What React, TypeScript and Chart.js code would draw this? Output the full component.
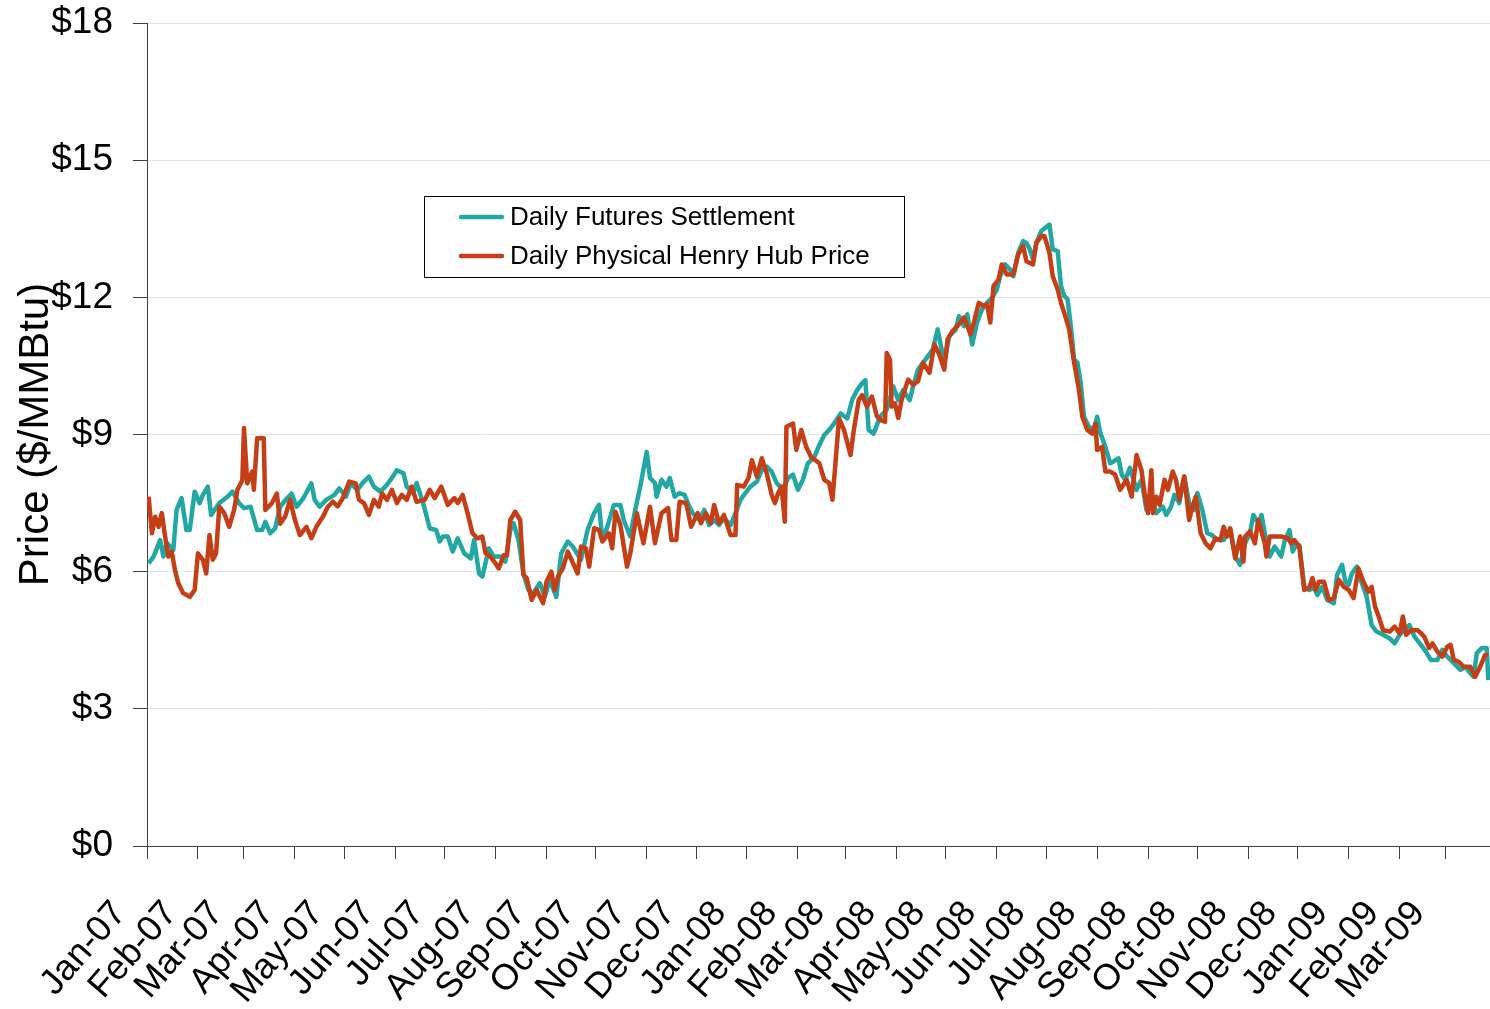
import React, { useEffect, useRef } from "react";
import { Chart, registerables } from "chart.js";

Chart.register(...registerables);

// Day offsets (days since 1 Jan 2007) of the first day of each labelled month
const monthStartDays = [0, 31, 59, 90, 120, 151, 181, 212, 243, 273, 304, 334, 365, 396, 425, 456, 486, 517, 547, 578, 609, 639, 670, 700, 731, 762, 790];
const monthLabels = ["Jan-07", "Feb-07", "Mar-07", "Apr-07", "May-07", "Jun-07", "Jul-07", "Aug-07", "Sep-07", "Oct-07", "Nov-07", "Dec-07", "Jan-08", "Feb-08", "Mar-08", "Apr-08", "May-08", "Jun-08", "Jul-08", "Aug-08", "Sep-08", "Oct-08", "Nov-08", "Dec-08", "Jan-09", "Feb-09", "Mar-09"];
const lastDay = 817;

const seriesNames = ["Daily Futures Settlement", "Daily Physical Henry Hub Price"];

// Daily Futures Settlement (day offset, $/MMBtu)
const futuresDays = [1, 4, 8, 10, 12, 16, 18, 21, 24, 26, 29, 32, 34, 37, 39, 44, 49, 52, 56, 59, 63, 67, 70, 72, 75, 78, 81, 85, 88, 91, 95, 100, 102, 105, 109, 114, 117, 121, 124, 128, 131, 135, 138, 142, 146, 149, 152, 156, 158, 162, 164, 168, 172, 176, 178, 180, 183, 186, 189, 193, 197, 199, 202, 204, 208, 211, 215, 218, 221, 223, 226, 229, 232, 235, 239, 242, 245, 249, 252, 256, 259, 264, 268, 272, 275, 277, 280, 284, 288, 290, 294, 297, 300, 304, 306, 309, 310, 313, 316, 318, 321, 324, 327, 330, 332, 336, 339, 342, 345, 348, 351, 355, 358, 361, 364, 367, 371, 374, 377, 380, 383, 387, 390, 393, 396, 399, 402, 406, 409, 412, 415, 418, 422, 426, 429, 432, 435, 437, 439, 442, 446, 450, 454, 457, 460, 464, 466, 469, 475, 478, 481, 483, 485, 488, 492, 494, 497, 499, 502, 505, 508, 512, 514, 517, 519, 522, 525, 527, 530, 533, 535, 537, 539, 541, 544, 549, 551, 554, 556, 558, 560, 562, 564, 566, 568, 570, 573, 576, 578, 580, 583, 586, 588, 591, 593, 595, 598, 602, 605, 608, 611, 614, 618, 620, 623, 625, 628, 631, 634, 637, 639, 642, 645, 648, 651, 655, 659, 662, 665, 668, 671, 673, 676, 678, 680, 683, 686, 690, 692, 695, 697, 699, 701, 704, 707, 710, 712, 715, 718, 722, 724, 727, 729, 731, 733, 736, 739, 742, 745, 748, 752, 756, 759, 762, 765, 768, 771, 775, 778, 781, 785, 788, 791, 795, 799, 802, 805, 807, 809, 812, 815, 816];
const futuresPrices = [6.18, 6.33, 6.69, 6.33, 6.63, 6.47, 7.35, 7.61, 6.91, 6.91, 7.75, 7.5, 7.68, 7.86, 7.24, 7.5, 7.64, 7.75, 7.5, 7.39, 7.42, 6.91, 6.91, 7.09, 6.84, 6.95, 7.42, 7.6, 7.71, 7.42, 7.6, 7.93, 7.57, 7.42, 7.57, 7.68, 7.82, 7.64, 7.93, 7.79, 7.93, 8.08, 7.86, 7.75, 7.9, 8.05, 8.22, 8.15, 7.86, 7.72, 7.94, 7.5, 6.95, 6.91, 6.66, 6.77, 6.77, 6.44, 6.73, 6.4, 6.29, 6.69, 5.96, 5.89, 6.51, 6.33, 6.33, 6.22, 6.91, 7.06, 6.69, 5.96, 5.6, 5.53, 5.75, 5.45, 5.82, 5.45, 6.4, 6.66, 6.55, 6.26, 6.91, 7.28, 7.46, 6.69, 6.98, 7.46, 7.46, 7.13, 6.77, 7.35, 7.85, 8.62, 8.05, 7.94, 7.64, 8.01, 7.86, 8.05, 7.64, 7.72, 7.68, 7.42, 7.28, 7.13, 7.35, 7.02, 7.13, 7.02, 7.17, 7.02, 7.28, 7.57, 7.72, 7.86, 7.97, 8.22, 8.3, 8.19, 7.94, 7.79, 8.05, 8.12, 7.79, 8.01, 8.37, 8.51, 8.77, 8.99, 9.1, 9.24, 9.46, 9.35, 9.76, 9.97, 10.12, 10.19, 9.1, 9.02, 9.39, 9.54, 10.05, 9.75, 9.97, 9.75, 10.05, 10.42, 10.71, 10.86, 11.3, 10.93, 10.57, 11.15, 11.3, 11.59, 11.37, 11.63, 10.97, 11.45, 11.74, 11.92, 11.99, 12.17, 12.46, 12.72, 12.61, 12.46, 12.97, 13.23, 13.19, 13.05, 12.83, 13.19, 13.45, 13.59, 13.05, 13.01, 12.25, 12.03, 11.96, 11.37, 10.64, 10.57, 10.13, 9.39, 9.17, 9.1, 9.39, 9.03, 8.73, 8.37, 8.41, 8.48, 8.12, 8.01, 8.27, 7.79, 8.01, 7.35, 7.64, 7.28, 7.42, 7.24, 7.42, 7.68, 7.5, 8.08, 7.5, 7.35, 7.72, 7.35, 6.84, 6.8, 6.69, 6.69, 6.91, 6.33, 6.15, 6.62, 6.84, 7.24, 7.06, 7.24, 6.84, 6.33, 6.55, 6.33, 6.66, 6.91, 6.44, 6.58, 6.58, 5.67, 5.6, 5.64, 5.49, 5.67, 5.38, 5.31, 5.93, 6.15, 5.78, 5.71, 5.96, 6.11, 5.75, 5.45, 4.83, 4.69, 4.62, 4.54, 4.43, 4.62, 4.72, 4.83, 4.58, 4.4, 4.25, 4.07, 4.07, 4.29, 4.14, 4.0, 3.85, 3.92, 3.78, 3.7, 4.22, 4.33, 4.33, 3.63];

// Daily Physical Henry Hub Price (day offset, $/MMBtu)
const physicalDays = [1, 3, 5, 7, 9, 11, 13, 15, 17, 19, 22, 26, 29, 31, 34, 36, 38, 40, 42, 44, 47, 50, 53, 55, 58, 59, 61, 64, 65, 67, 71, 72, 76, 79, 81, 84, 87, 90, 93, 97, 100, 103, 107, 110, 113, 116, 119, 123, 127, 129, 132, 135, 138, 141, 143, 146, 149, 152, 155, 158, 161, 164, 169, 172, 175, 179, 183, 187, 189, 192, 195, 198, 201, 204, 206, 209, 212, 214, 217, 219, 221, 224, 227, 229, 231, 234, 237, 241, 243, 246, 248, 250, 253, 256, 262, 264, 267, 269, 272, 275, 277, 281, 283, 285, 288, 292, 294, 298, 302, 306, 309, 313, 317, 319, 322, 324, 328, 331, 335, 337, 340, 343, 345, 348, 351, 355, 358, 359, 363, 366, 368, 371, 374, 377, 380, 382, 384, 386, 388, 389, 393, 395, 398, 401, 404, 409, 412, 415, 417, 421, 424, 428, 430, 433, 435, 438, 441, 444, 446, 449, 450, 452, 453, 455, 457, 459, 463, 466, 469, 472, 476, 479, 482, 485, 487, 490, 494, 497, 501, 503, 506, 509, 511, 513, 515, 518, 520, 523, 527, 530, 533, 535, 539, 541, 544, 546, 549, 551, 554, 556, 558, 561, 564, 567, 569, 572, 575, 577, 578, 581, 583, 586, 589, 592, 596, 599, 602, 605, 607, 609, 611, 612, 614, 616, 619, 621, 624, 626, 628, 631, 634, 636, 638, 641, 644, 647, 650, 653, 655, 657, 659, 662, 665, 667, 668, 671, 674, 676, 680, 681, 683, 690, 694, 696, 698, 701, 704, 707, 709, 711, 713, 716, 719, 722, 725, 728, 731, 734, 737, 740, 743, 745, 747, 749, 752, 756, 759, 762, 764, 766, 769, 773, 777, 780, 782, 785, 788, 791, 793, 795, 798, 801, 805, 808, 811, 814, 816];
const physicalPrices = [7.64, 6.84, 7.2, 6.98, 7.28, 6.77, 6.33, 6.44, 6.04, 5.75, 5.53, 5.45, 5.6, 6.4, 6.26, 5.96, 6.8, 6.26, 6.4, 7.42, 7.28, 6.98, 7.35, 7.79, 8.0, 9.14, 7.93, 8.19, 7.79, 8.92, 8.92, 7.35, 7.5, 7.71, 7.05, 7.2, 7.57, 7.13, 6.8, 6.98, 6.73, 6.98, 7.2, 7.42, 7.53, 7.43, 7.6, 7.97, 7.93, 7.57, 7.5, 7.24, 7.57, 7.42, 7.71, 7.57, 7.79, 7.5, 7.68, 7.57, 7.86, 7.53, 7.57, 7.79, 7.61, 7.86, 7.46, 7.61, 7.5, 7.68, 7.28, 6.84, 6.73, 6.77, 6.4, 6.33, 6.18, 6.07, 6.36, 6.36, 7.13, 7.31, 7.13, 5.93, 5.86, 5.38, 5.6, 5.31, 5.78, 6.0, 5.6, 5.89, 6.07, 6.44, 5.96, 6.55, 6.51, 6.11, 6.95, 6.91, 6.66, 6.84, 6.51, 7.31, 7.02, 6.11, 6.4, 7.28, 6.62, 7.42, 6.62, 7.28, 7.39, 6.69, 6.69, 7.53, 7.5, 6.98, 7.28, 7.06, 7.28, 7.06, 7.46, 7.06, 7.24, 6.8, 6.8, 7.9, 7.86, 8.05, 8.44, 8.08, 8.48, 8.15, 7.68, 7.5, 7.72, 7.86, 7.09, 9.17, 9.24, 8.66, 9.1, 8.73, 8.51, 8.37, 8.01, 7.94, 7.57, 9.35, 9.1, 8.55, 9.1, 9.76, 9.86, 9.61, 9.83, 9.4, 9.32, 9.28, 10.78, 10.64, 9.61, 9.68, 9.36, 9.75, 10.2, 10.09, 10.16, 10.57, 10.35, 10.97, 10.75, 10.42, 11.08, 11.26, 11.41, 11.56, 11.19, 11.45, 11.88, 11.81, 11.85, 11.45, 12.25, 12.39, 12.72, 12.5, 12.5, 12.94, 13.12, 12.79, 12.72, 13.19, 13.34, 13.34, 12.97, 12.46, 12.17, 11.88, 11.66, 11.3, 10.57, 9.97, 9.39, 9.1, 9.02, 9.24, 8.66, 8.73, 8.19, 8.19, 8.12, 7.79, 8.01, 7.64, 8.55, 8.22, 7.68, 7.28, 8.22, 7.28, 7.64, 7.46, 8.01, 7.79, 8.19, 8.01, 7.57, 8.08, 7.13, 7.42, 7.64, 6.84, 6.62, 6.51, 6.73, 6.69, 6.98, 6.77, 6.95, 6.29, 6.77, 6.22, 6.77, 6.88, 6.62, 7.13, 6.62, 6.33, 6.77, 6.77, 6.73, 6.62, 6.69, 6.55, 5.6, 5.64, 5.86, 5.6, 5.78, 5.78, 5.38, 5.42, 5.82, 5.67, 5.6, 5.42, 6.07, 5.78, 5.56, 5.67, 5.24, 5.05, 4.72, 4.69, 4.8, 4.65, 5.02, 4.62, 4.72, 4.72, 4.58, 4.33, 4.43, 4.25, 4.14, 4.36, 4.4, 4.07, 4.03, 3.92, 3.92, 3.7, 3.92, 4.18, 4.18];

const yMin = 0;
const yMax = 18;
const yStep = 3;

const TEAL = "#22a7a3";
const RUST = "#c53f16";
const FONT = "'Liberation Sans', Arial, sans-serif";

const toPoints = (days: number[], prices: number[]) => days.map((d, i) => ({ x: d, y: prices[i] }));

const boxLegendPlugin = {
  id: "boxLegend",
  afterDraw(chart: any) {
    const { ctx, chartArea } = chart;
    const x0 = chartArea.left + 277;
    const y0 = chartArea.top + 173;
    const w = 480;
    const h = 81;
    ctx.save();
    ctx.fillStyle = "#ffffff";
    ctx.fillRect(x0, y0, w, h);
    ctx.strokeStyle = "#000000";
    ctx.lineWidth = 1;
    ctx.strokeRect(Math.round(x0) + 0.5, Math.round(y0) + 0.5, w, h);
    const colors = [TEAL, RUST];
    seriesNames.forEach((name, i) => {
      const cy = y0 + 21 + i * 39;
      ctx.strokeStyle = colors[i];
      ctx.lineWidth = 4.5;
      ctx.lineCap = "round";
      ctx.beginPath();
      ctx.moveTo(x0 + 37, cy);
      ctx.lineTo(x0 + 78, cy);
      ctx.stroke();
      ctx.fillStyle = "#000000";
      ctx.font = `26px ${FONT}`;
      ctx.textAlign = "left";
      ctx.textBaseline = "middle";
      ctx.fillText(name, x0 + 86, cy + 1);
    });
    ctx.restore();
  },
};

export default function App() {
  const canvasRef = useRef<HTMLCanvasElement | null>(null);

  useEffect(() => {
    if (!canvasRef.current) return;
    const chart = new Chart(canvasRef.current, {
      type: "line",
      data: {
        datasets: [
          {
            label: seriesNames[0],
            data: toPoints(futuresDays, futuresPrices),
            borderColor: TEAL,
            backgroundColor: TEAL,
            borderWidth: 4.5,
            pointRadius: 0,
            tension: 0,
            borderJoinStyle: "round",
            order: 1,
          },
          {
            label: seriesNames[1],
            data: toPoints(physicalDays, physicalPrices),
            borderColor: RUST,
            backgroundColor: RUST,
            borderWidth: 4.5,
            pointRadius: 0,
            tension: 0,
            borderJoinStyle: "round",
            order: 0,
          },
        ],
      },
      options: {
        responsive: false,
        animation: false,
        devicePixelRatio: 1,
        layout: { padding: { top: 23, right: 0, bottom: 0, left: 0 } },
        plugins: {
          legend: { display: false },
          tooltip: { enabled: false },
        },
        scales: {
          x: {
            type: "linear",
            min: 0,
            max: lastDay,
            afterBuildTicks: (axis: any) => {
              axis.ticks = monthStartDays.map((v) => ({ value: v }));
            },
            afterFit: (axis: any) => {
              axis.height = 163;
              axis.paddingLeft = 0;
              axis.paddingRight = 0;
            },
            grid: {
              drawOnChartArea: false,
              drawTicks: true,
              tickLength: 13,
              color: "#404040",
              tickColor: "#404040",
            },
            border: { display: true, color: "#404040", width: 1 },
            ticks: {
              autoSkip: false,
              maxRotation: 49,
              minRotation: 49,
              padding: 34,
              labelOffset: -27,
              color: "#000000",
              font: { family: FONT, size: 36 },
              callback: (_v: any, index: number) => monthLabels[index],
            },
          },
          y: {
            type: "linear",
            min: yMin,
            max: yMax,
            afterFit: (axis: any) => {
              axis.width = 147;
              axis.paddingTop = 0;
              axis.paddingBottom = 0;
            },
            grid: {
              color: "#dfe7ea",
              tickColor: "#404040",
              tickLength: 14,
              drawTicks: true,
            },
            border: { display: true, color: "#404040", width: 1 },
            ticks: {
              stepSize: yStep,
              padding: 20,
              color: "#000000",
              font: { family: FONT, size: 37 },
              callback: (v: any) => "$" + v,
            },
            title: {
              display: true,
              text: "Price ($/MMBtu)",
              color: "#000000",
              font: { family: FONT, size: 42 },
              padding: { top: 11, bottom: 0 },
            },
          },
        },
      },
      plugins: [boxLegendPlugin],
    } as any);
    return () => chart.destroy();
  }, []);

  return (
    <div style={{ position: "absolute", left: 0, top: 0, width: 1490, height: 1009, background: "#ffffff" }}>
      <canvas ref={canvasRef} width={1490} height={1009} style={{ width: 1490, height: 1009, display: "block" }} />
    </div>
  );
}
